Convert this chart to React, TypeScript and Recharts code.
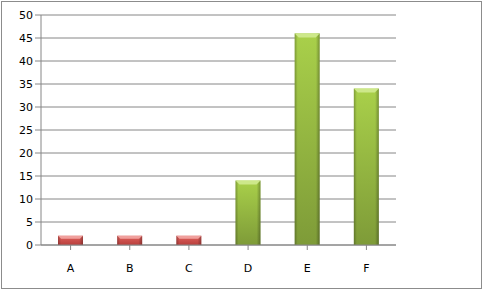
import { BarChart, Bar, XAxis, YAxis, CartesianGrid, Cell } from 'recharts';

const categories = ['A', 'B', 'C', 'D', 'E', 'F'];
const values = [2, 2, 2, 14, 46, 34];
const groups = ['red', 'red', 'red', 'green', 'green', 'green'];
const yTicks = [0, 5, 10, 15, 20, 25, 30, 35, 40, 45, 50];

const data = categories.map((name, i) => ({ name, value: values[i], group: groups[i] }));

const PALETTE: Record<string, { top: string; bottom: string; bevel: string }> = {
  red: { top: '#e0605c', bottom: '#b8403d', bevel: '#f0a09d' },
  green: { top: '#a9d04a', bottom: '#7e9b38', bevel: '#cde88a' },
};

function BevelBar(props: any) {
  const { x, y, width, height, payload } = props;
  if (!height || height <= 0) return null;
  const g = payload.group;
  const b = Math.min(4, height / 3);
  return (
    <g>
      <rect x={x} y={y} width={width} height={height} fill={`url(#v-${g})`} />
      <rect x={x} y={y} width={width} height={height} fill="url(#edges)" />
      <polygon
        points={`${x},${y} ${x + width},${y} ${x + width - b},${y + b} ${x + b},${y + b}`}
        fill={PALETTE[g].bevel}
      />
    </g>
  );
}

export default function App() {
  return (
    <div style={{ position: 'absolute', left: 0, top: 0, width: 483, height: 291, background: '#fff' }}>
      <div
        style={{
          position: 'absolute',
          left: 1,
          top: 1,
          width: 479,
          height: 286,
          border: '1px solid #8c8c8c',
        }}
      />
      <BarChart
        width={483}
        height={291}
        data={data}
        margin={{ top: 15, right: 87, left: 0, bottom: 16 }}
        style={{ fontFamily: 'Verdana, "DejaVu Sans", sans-serif' }}
      >
        <defs>
          {Object.keys(PALETTE).map((k) => (
            <linearGradient key={k} id={`v-${k}`} x1="0" y1="0" x2="0" y2="1">
              <stop offset="0%" stopColor={PALETTE[k].top} />
              <stop offset="100%" stopColor={PALETTE[k].bottom} />
            </linearGradient>
          ))}
          <linearGradient id="edges" x1="0" y1="0" x2="1" y2="0">
            <stop offset="0%" stopColor="#000" stopOpacity={0.25} />
            <stop offset="12%" stopColor="#000" stopOpacity={0} />
            <stop offset="85%" stopColor="#000" stopOpacity={0} />
            <stop offset="100%" stopColor="#000" stopOpacity={0.3} />
          </linearGradient>
        </defs>
        <CartesianGrid vertical={false} stroke="#868686" strokeWidth={1} />
        <XAxis
          dataKey="name"
          height={30}
          axisLine={{ stroke: '#868686' }}
          tickLine={{ stroke: '#868686' }}
          tickSize={5}
          interval={0}
          tick={{ fill: '#000', fontSize: 11, dy: 12 }}
          padding={{ left: 0, right: 0 }}
        />
        <YAxis
          width={41}
          domain={[0, 50]}
          ticks={yTicks}
          interval={0}
          axisLine={{ stroke: '#868686' }}
          tickLine={{ stroke: '#868686' }}
          tickSize={6}
          tick={{ fill: '#000', fontSize: 11 }}
        />
        <Bar dataKey="value" barSize={25} shape={<BevelBar />} isAnimationActive={false}>
          {data.map((d) => (
            <Cell key={d.name} />
          ))}
        </Bar>
      </BarChart>
    </div>
  );
}
